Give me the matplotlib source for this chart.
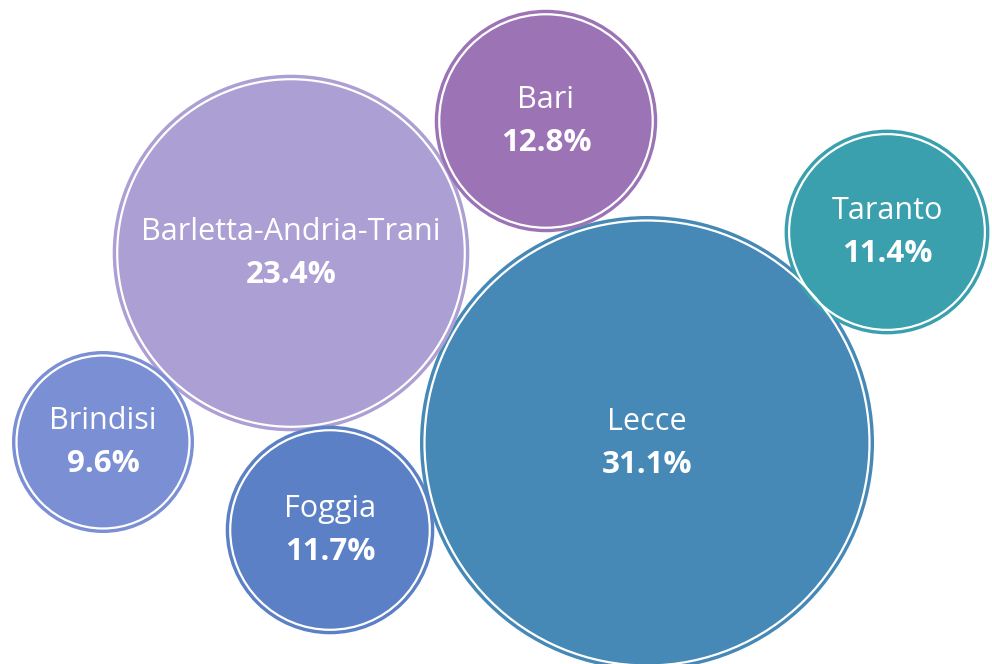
import matplotlib
matplotlib.use("Agg")
import matplotlib.pyplot as plt
from matplotlib.patches import Circle

# ---- data ----
provinces = ["Lecce", "Barletta-Andria-Trani", "Bari", "Foggia", "Taranto", "Brindisi"]
shares = [31.1, 23.4, 12.8, 11.7, 11.4, 9.6]
colors = ["#4689b6", "#ab9fd3", "#9c74b6", "#5b80c5", "#3ba0ae", "#7b8fd5"]

# ---- layout (bubble centres in pixel space of the canvas) ----
centres = [(647, 443), (291, 253), (546, 121), (330, 530), (887, 232), (103, 442)]

# radius scale: linear map from share to pixel radius
r_min_val, r_max_val = 9.6, 31.1
r_min_px, r_max_px = 91, 227


def radius(v):
    return r_min_px + (v - r_min_val) * (r_max_px - r_min_px) / (r_max_val - r_min_val)


plt.rcParams['font.family'] = ['Open Sans', 'DejaVu Sans']

fig = plt.figure(figsize=(9.92, 6.64), dpi=100)
ax = fig.add_axes([0, 0, 1, 1])
ax.set_xlim(0, 992)
ax.set_ylim(664, 0)
ax.set_aspect('equal')
ax.axis('off')

for name, val, col, (cx, cy) in zip(provinces, shares, colors, centres):
    r = radius(val)
    ax.add_patch(Circle((cx, cy), r, facecolor=col, edgecolor='none', zorder=2))
    ax.add_patch(Circle((cx, cy), r - 4.5, facecolor='none', edgecolor='white',
                        linewidth=1.6, zorder=3))
    ax.text(cx, cy - 21, name, color='white', fontsize=22, ha='center', va='center',
            zorder=4)
    ax.text(cx, cy + 22, f"{val:.1f}%", color='white', fontsize=22.5, fontweight='bold',
            ha='center', va='center', zorder=4)

fig.savefig("out.png", dpi=100, facecolor='white')
